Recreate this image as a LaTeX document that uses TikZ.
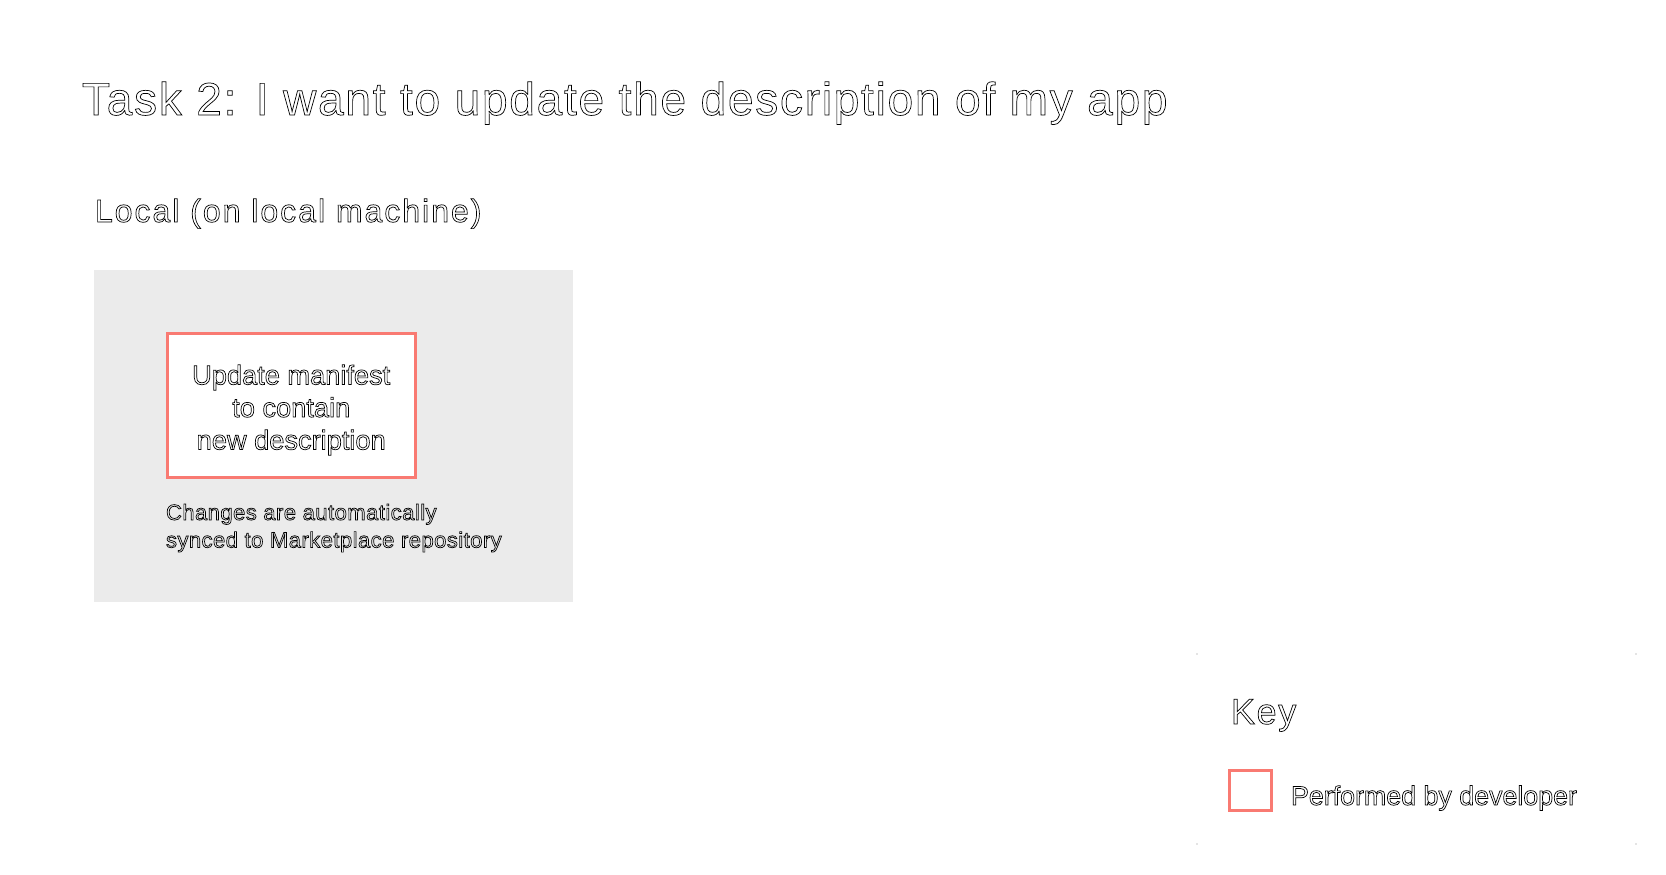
\documentclass[tikz,border=0pt]{standalone}
\usepackage{fontspec}
\setmainfont{Liberation Sans}
\definecolor{panelgray}{RGB}{235,235,235}
\definecolor{devred}{RGB}{249,122,114}
\newcommand\outl[1]{\special{pdf:literal direct 1 Tr 0.35 w}#1\special{pdf:literal direct 0 Tr}}
\tikzset{
  txt/.style={inner sep=0pt, outer sep=0pt, text=black},
  devbox/.style={draw=devred, line width=1.5pt, fill=white, inner sep=0pt},
  cornerdot/.style={fill=black!45, circle, inner sep=0pt, minimum size=0.7pt}
}
\begin{document}
\begin{tikzpicture}[x=0.5pt,y=-0.5pt]
\path[use as bounding box, fill=white] (0,0) rectangle (1666,874);
% title
\node[txt, anchor=base west, font=\fontsize{23}{28}\selectfont\addfontfeatures{LetterSpace=3.8}] (title) at (82,115) {\outl{Task 2: I want to update the description of my app}};
\node[txt, anchor=base west, font=\fontsize{16}{20}\selectfont\addfontfeatures{LetterSpace=6.2}] (local) at (95,222) {\outl{Local (on local machine)}};
% panel
\node[fill=panelgray, inner sep=0pt, anchor=north west, minimum width=239.75pt, minimum height=166pt] (panel) at (93.5,270) {};
% red box
\node[devbox, minimum width=124pt, minimum height=72pt] (upd) at (291.25,405.5) {};
\node[txt, align=center, font=\fontsize{13.6}{16.25}\selectfont] (updtxt) at (291.25,410) {\outl{Update manifest}\\\outl{to contain}\\\outl{new description}};
\node[txt, align=left, anchor=north west, font=\fontsize{11}{13.8}\selectfont\addfontfeatures{LetterSpace=2.1}] (caption) at (166,504) {\outl{Changes are automatically}\\\outl{synced to Marketplace repository}};
% key
\node[cornerdot] (k1) at (1197,654) {};
\node[cornerdot] (k2) at (1636,654) {};
\node[cornerdot] (k3) at (1197,844) {};
\node[cornerdot] (k4) at (1636,844) {};
\node[txt, anchor=base west, font=\fontsize{18}{22}\selectfont\addfontfeatures{LetterSpace=4.5}] (key) at (1231,724) {\outl{Key}};
\node[devbox, minimum width=21pt, minimum height=20pt] (keybox) at (1250.5,790.5) {};
\node[txt, anchor=base west, font=\fontsize{13.4}{16}\selectfont] (keytxt) at (1291,805) {\outl{Performed by developer}};
\end{tikzpicture}
\end{document}
